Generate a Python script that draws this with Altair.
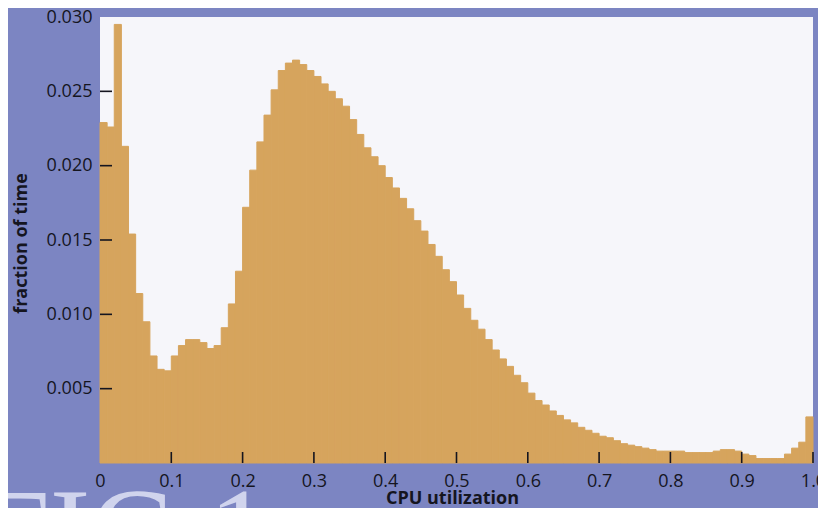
import altair as alt
import pandas as pd

# ---- data ----
bin_start = [i / 100 for i in range(100)]
bin_end = [(i + 1) / 100 for i in range(100)]
fraction = [
    0.0229, 0.0226, 0.0295, 0.0213, 0.0154, 0.0114, 0.0095, 0.0072, 0.0063, 0.0062,
    0.0072, 0.0079, 0.0083, 0.0083, 0.0081, 0.0077, 0.0079, 0.0091, 0.0107, 0.0129,
    0.0172, 0.0197, 0.0216, 0.0234, 0.0251, 0.0264, 0.0269, 0.0271, 0.0268, 0.0264,
    0.0260, 0.0255, 0.0250, 0.0245, 0.0240, 0.0231, 0.0221, 0.0212, 0.0206, 0.0200,
    0.0192, 0.0185, 0.0178, 0.0171, 0.0163, 0.0156, 0.0147, 0.0139, 0.0130, 0.0122,
    0.0113, 0.0104, 0.0096, 0.0090, 0.0083, 0.0076, 0.0070, 0.0065, 0.0059, 0.0054,
    0.0047, 0.0042, 0.0039, 0.0035, 0.0032, 0.0029, 0.0027, 0.0024, 0.0022, 0.0020,
    0.0018, 0.0017, 0.0015, 0.0013, 0.0012, 0.0011, 0.0010, 0.0009, 0.0008, 0.0008,
    0.0008, 0.0008, 0.0007, 0.0007, 0.0007, 0.0007, 0.0008, 0.0009, 0.0009, 0.0008,
    0.0006, 0.0005, 0.0003, 0.0003, 0.0003, 0.0003, 0.0006, 0.0010, 0.0014, 0.0031,
]
x_ticks = [0.0, 0.1, 0.2, 0.3, 0.4, 0.5, 0.6, 0.7, 0.8, 0.9, 1.0]
x_inner_ticks = [0.1, 0.2, 0.3, 0.4, 0.5, 0.6, 0.7, 0.8, 0.9, 1.0]
y_ticks = [0.005, 0.010, 0.015, 0.020, 0.025, 0.030]
y_inner_ticks = [0.005, 0.010, 0.015, 0.020, 0.025]
watermark = ["FIG 1"]

BG = "#7c85c2"
PLOT_BG = "#f6f6fa"
BAR = "#d6a45d"
INK = "#15151f"
FONT = "Open Sans"

bars_df = pd.DataFrame({"start": bin_start, "end": bin_end, "fraction": fraction})
xt_df = pd.DataFrame({"start": x_inner_ticks})
yt_df = pd.DataFrame({"fraction": y_inner_ticks})
wm_df = pd.DataFrame({"label": watermark})

xscale = alt.Scale(domain=[0, 1], nice=False, zero=False)
yscale = alt.Scale(domain=[0, 0.030], nice=False)

x_axis = alt.Axis(
    values=x_ticks,
    labelExpr="datum.value == 0 ? '0' : format(datum.value, '.1f')",
    title="CPU utilization",
    titleX=352,
    titleY=40,
    titleBaseline="alphabetic",
    titleAlign="center",
    titleFontSize=18,
    titleFontWeight="bold",
    labelFlush=False,
    labelOverlap=False,
    labelPadding=9,
)
y_axis = alt.Axis(
    values=y_ticks,
    format=".3f",
    title="fraction of time",
    titleX=-79,
    titleY=226,
    titleAngle=270,
    titleAlign="center",
    titleBaseline="middle",
    titleFontSize=18,
    titleFontWeight="bold",
    labelPadding=8,
    labelOverlap=False,
    labelFlush=False,
    labelBaseline="middle",
)

bars = alt.Chart(bars_df).mark_rect(color=BAR, stroke=BAR, strokeWidth=1).encode(
    x=alt.X("start:Q", scale=xscale, axis=x_axis),
    x2="end:Q",
    y=alt.Y("fraction:Q", scale=yscale, axis=y_axis),
    y2=alt.datum(0),
)

xticks = alt.Chart(xt_df).mark_rule(color=INK, strokeWidth=1.6).encode(
    x=alt.X("start:Q", scale=xscale, axis=x_axis),
    y=alt.value(446),
    y2=alt.value(435),
)

yticks = alt.Chart(yt_df).mark_rule(color=INK, strokeWidth=1.6).encode(
    y=alt.Y("fraction:Q", scale=yscale, axis=y_axis),
    x=alt.value(0),
    x2=alt.value(12),
)

wm = alt.Chart(wm_df).mark_text(
    font="Liberation Serif",
    fontSize=122,
    align="left",
    baseline="alphabetic",
    color="#d8dbf1",
    opacity=0.92,
).encode(
    text="label:N",
    x=alt.value(-118),
    y=alt.value(556),
)

chart = (
    alt.layer(bars, xticks, yticks, wm)
    .properties(
        width=713,
        height=446,
        background=BG,
        autosize=alt.AutoSizeParams(type="none"),
        padding={"left": 92, "top": 9, "right": 5, "bottom": 45},
    )
    .configure_view(fill=PLOT_BG, strokeWidth=0)
    .configure_axis(
        domain=False,
        ticks=False,
        tickSize=0,
        grid=False,
        labelFont=FONT,
        labelFontSize=18,
        labelColor=INK,
        titleFont=FONT,
        titleColor=INK,
    )
)

chart.save("out.html", embed_options={"renderer": "svg", "actions": False})
